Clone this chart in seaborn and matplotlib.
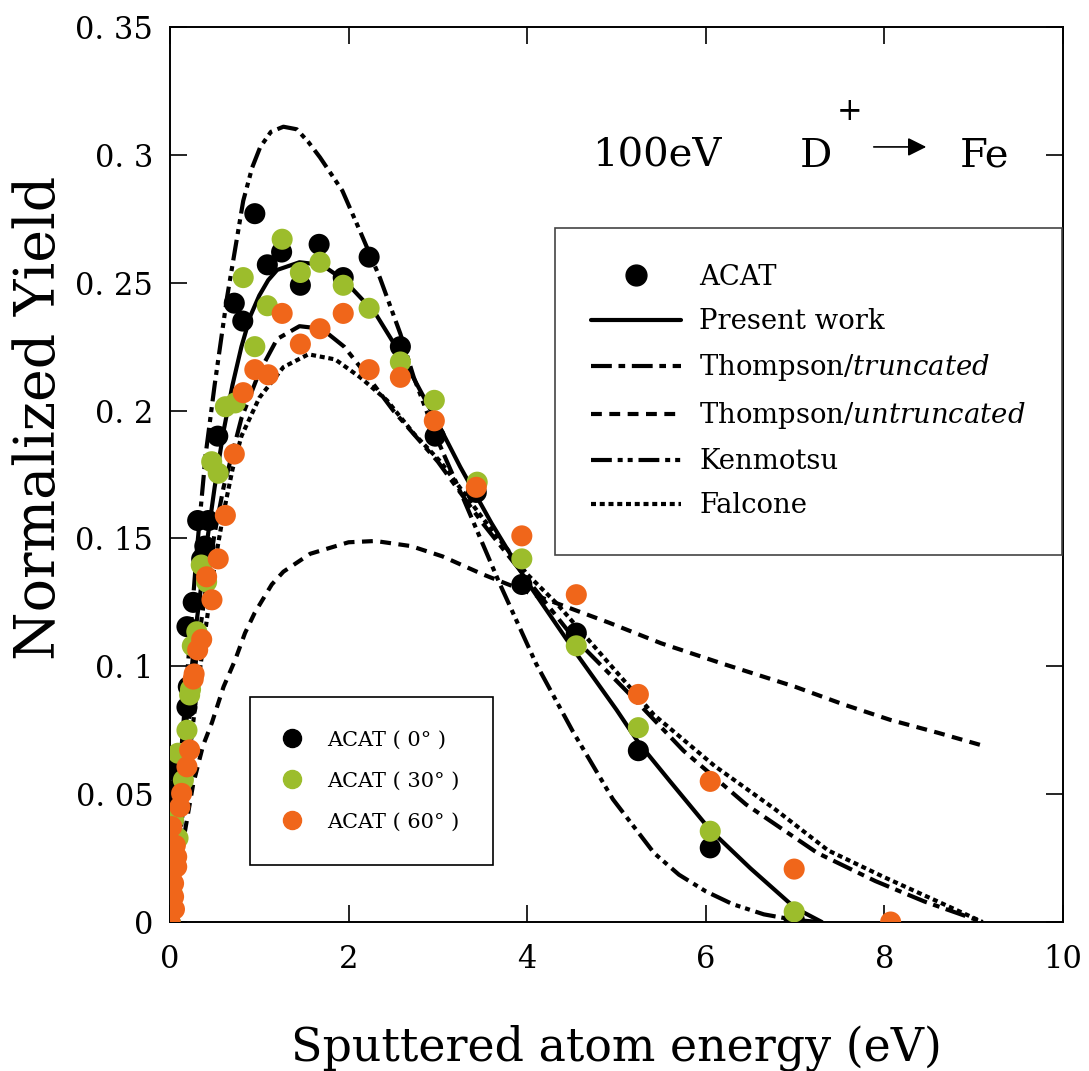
import numpy as np
import pandas as pd
import matplotlib
matplotlib.use("Agg")
import matplotlib.pyplot as plt
from matplotlib.lines import Line2D
import seaborn as sns

# ---------------- data ----------------
E_0 = [0.0, 0.01, 0.01, 0.03, 0.02, 0.04, 0.08, 0.13, 0.19, 0.205, 0.19, 0.26, 0.355, 0.39, 0.31, 0.43,
       0.535, 0.72, 0.815, 0.95, 1.09, 1.25, 1.46, 1.67, 1.94, 2.23, 2.58, 2.97, 3.43, 3.94, 4.55,
       5.245, 6.05, 6.99]
Y_0 = [0.0, 0.015, 0.025, 0.035, 0.0446, 0.0594, 0.052, 0.065, 0.084, 0.092, 0.1155, 0.125, 0.142, 0.147,
       0.157, 0.157, 0.190, 0.242, 0.235, 0.277, 0.257, 0.262, 0.249, 0.265, 0.252, 0.260, 0.225,
       0.190, 0.168, 0.132, 0.113, 0.067, 0.029, 0.001]

E_30 = [0.0, 0.02, 0.0, 0.04, 0.09, 0.09, 0.15, 0.19, 0.22, 0.23, 0.25, 0.30, 0.35, 0.41, 0.467, 0.54,
        0.62, 0.73, 0.82, 0.95, 1.09, 1.256, 1.46, 1.68, 1.94, 2.23, 2.58, 2.96, 3.44, 3.94, 4.55,
        5.245, 6.05, 6.99]
Y_30 = [0.0, 0.012, 0.024, 0.040, 0.0328, 0.066, 0.0555, 0.075, 0.0888, 0.091, 0.108, 0.1135, 0.1396,
        0.133, 0.180, 0.1755, 0.2015, 0.203, 0.252, 0.225, 0.241, 0.267, 0.254, 0.258, 0.249, 0.240,
        0.219, 0.204, 0.172, 0.142, 0.108, 0.076, 0.0355, 0.004]

E_60 = [0.0, 0.05, 0.04, 0.04, 0.03, 0.075, 0.075, 0.06, 0.02, 0.11, 0.13, 0.19, 0.22, 0.26, 0.27, 0.31,
        0.355, 0.47, 0.41, 0.54, 0.62, 0.72, 0.82, 0.95, 1.10, 1.256, 1.46, 1.68, 1.94, 2.23, 2.58,
        2.96, 3.43, 3.94, 4.55, 5.245, 6.05, 6.99, 8.07]
Y_60 = [0.0, 0.005, 0.0099, 0.0151, 0.020, 0.0216, 0.0255, 0.030, 0.0373, 0.045, 0.0503, 0.0607, 0.0673,
        0.095, 0.097, 0.1064, 0.1105, 0.126, 0.135, 0.142, 0.159, 0.183, 0.207, 0.216, 0.214, 0.238,
        0.226, 0.232, 0.238, 0.216, 0.213, 0.196, 0.170, 0.151, 0.128, 0.089, 0.055, 0.0207, 0.0]

E_present = [0, 0.1, 0.2, 0.3, 0.4, 0.5, 0.6, 0.7, 0.8, 0.9, 1.0, 1.1, 1.2, 1.45, 1.7, 1.95, 2.3, 2.6,
             3.0, 3.25, 3.6, 4.0, 4.55, 5.0, 5.25, 5.6, 6.05, 6.5, 7.0, 7.3]
Y_present = [0, 0.045, 0.085, 0.118, 0.145, 0.17, 0.192, 0.21, 0.225, 0.237, 0.245, 0.251, 0.255, 0.258,
             0.257, 0.251, 0.238, 0.221, 0.195, 0.178, 0.156, 0.133, 0.105, 0.083, 0.070, 0.055, 0.036,
             0.021, 0.0055, 0]

E_trunc = [0, 0.1, 0.2, 0.3, 0.4, 0.5, 0.6, 0.8, 1.0, 1.2, 1.45, 1.7, 1.95, 2.2, 2.5, 2.75, 3.0, 3.5,
           4.0, 4.5, 5.15, 5.75, 6.45, 7.25, 7.9, 8.45, 9.1]
Y_trunc = [0, 0.04, 0.075, 0.105, 0.13, 0.152, 0.17, 0.197, 0.215, 0.228, 0.233, 0.232, 0.225, 0.214,
           0.2, 0.19, 0.18, 0.156, 0.134, 0.112, 0.089, 0.067, 0.046, 0.027, 0.016, 0.008, 0]

E_untr = [0, 0.1, 0.26, 0.37, 0.47, 0.6, 0.73, 0.84, 0.95, 1.14, 1.27, 1.57, 2.0, 2.3, 2.7, 3.05, 3.5,
          4.15, 4.92, 5.5, 6.19, 7.0, 7.55, 8.07, 8.6, 9.1]
Y_untr = [0, 0.022, 0.054, 0.069, 0.078, 0.092, 0.1025, 0.113, 0.121, 0.132, 0.137, 0.144, 0.1485, 0.149,
          0.147, 0.143, 0.136, 0.127, 0.117, 0.109, 0.101, 0.092, 0.085, 0.079, 0.074, 0.069]

E_kenm = [0, 0.1, 0.2, 0.3, 0.4, 0.5, 0.64, 0.82, 0.92, 1.01, 1.13, 1.27, 1.42, 1.55, 1.68, 1.93, 2.13,
          2.35, 2.58, 2.73, 2.99, 3.14, 3.28, 3.69, 4.1, 4.51, 4.96, 5.42, 5.7, 6.0, 6.3, 6.65, 7.0, 7.28]
Y_kenm = [0, 0.055, 0.1, 0.145, 0.183, 0.21, 0.2445, 0.282, 0.295, 0.303, 0.309, 0.311, 0.31, 0.305,
          0.299, 0.286, 0.27, 0.252, 0.23, 0.213, 0.189, 0.177, 0.166, 0.1325, 0.101, 0.0746, 0.048,
          0.027, 0.0185, 0.012, 0.007, 0.003, 0.0008, 0]

E_falc = [0, 0.1, 0.2, 0.3, 0.4, 0.5, 0.6, 0.7, 0.8, 1.0, 1.27, 1.55, 1.85, 2.13, 2.43, 2.73, 3.03, 3.5,
          4.0, 4.33, 4.92, 5.42, 6.1, 6.78, 7.37, 8.0, 8.6, 9.1]
Y_falc = [0, 0.03, 0.06, 0.09, 0.115, 0.14, 0.16, 0.177, 0.19, 0.205, 0.217, 0.222, 0.22, 0.213, 0.204,
          0.191, 0.18, 0.158, 0.136, 0.1246, 0.101, 0.081, 0.061, 0.044, 0.028, 0.0175, 0.008, 0]

x_ticks = [0, 2, 4, 6, 8, 10]
x_tick_labels = ["0", "2", "4", "6", "8", "10"]
y_ticks = [0, 0.05, 0.1, 0.15, 0.2, 0.25, 0.3, 0.35]
y_tick_labels = ["0", "0. 05", "0. 1", "0. 15", "0. 2", "0. 25", "0. 3", "0. 35"]

angle_labels = ["ACAT ( 0° )", "ACAT ( 30° )", "ACAT ( 60° )"]
model_labels = ["ACAT", "Present work", r"Thompson/$\mathit{truncated}$",
                r"Thompson/$\mathit{untruncated}$", "Kenmotsu", "Falcone"]

# ---------------- styling ----------------
sns.set_theme(style="ticks")
plt.rcParams["font.family"] = ["DejaVu Serif", "DejaVu Sans"]
plt.rcParams["mathtext.fontset"] = "custom"
plt.rcParams["mathtext.rm"] = "DejaVu Serif"
plt.rcParams["mathtext.it"] = "DejaVu Serif:italic"
plt.rcParams["axes.linewidth"] = 1.4
for k in ["text.color", "axes.labelcolor", "xtick.color", "ytick.color", "axes.edgecolor"]:
    plt.rcParams[k] = "black"

BLACK = "#000000"
GREEN = "#9cbd2c"
ORANGE = "#f0661a"

fig = plt.figure(figsize=(10.89, 10.71), dpi=100)
ax = fig.add_axes([0.1561, 0.1391, 0.8200, 0.8357])

LW = 3.0
styles = {
    "present": "-",
    "trunc": (0, (5, 1.6, 1.6, 1.6)),
    "untr": (0, (2.6, 1.8)),
    "kenm": (0, (5, 1.4, 1.2, 1.2, 1.2, 1.4)),
    "falc": (0, (1.2, 0.9)),
}

curves = [
    (E_present, Y_present, "present"),
    (E_trunc, Y_trunc, "trunc"),
    (E_untr, Y_untr, "untr"),
    (E_kenm, Y_kenm, "kenm"),
    (E_falc, Y_falc, "falc"),
]
for ex, ey, key in curves:
    sns.lineplot(x=ex, y=ey, ax=ax, color=BLACK, lw=LW, linestyle=styles[key],
                 estimator=None, sort=False, legend=False, zorder=2)

pts = pd.concat([
    pd.DataFrame({"E": E_0, "Y": Y_0, "angle": angle_labels[0]}),
    pd.DataFrame({"E": E_30, "Y": Y_30, "angle": angle_labels[1]}),
    pd.DataFrame({"E": E_60, "Y": Y_60, "angle": angle_labels[2]}),
], ignore_index=True)
palette = {angle_labels[0]: BLACK, angle_labels[1]: GREEN, angle_labels[2]: ORANGE}
for lab in angle_labels:
    sub = pts[pts["angle"] == lab]
    sns.scatterplot(data=sub, x="E", y="Y", ax=ax, color=palette[lab], s=230,
                    linewidth=0, edgecolor="none", legend=False, zorder=3)

ax.set_xlim(0, 10)
ax.set_ylim(0, 0.35)
ax.set_xticks(x_ticks)
ax.set_xticklabels(x_tick_labels, fontsize=22)
ax.set_yticks(y_ticks)
ax.set_yticklabels(y_tick_labels, fontsize=22)
ax.tick_params(axis="both", direction="in", length=12, width=1.2, top=True, right=True,
               colors="black")
ax.tick_params(axis="x", pad=16)
ax.tick_params(axis="y", pad=12)
for sp in ax.spines.values():
    sp.set_visible(True)
    sp.set_color("black")

ax.set_xlabel("Sputtered atom energy (eV)", fontsize=33, va="center", color="black")
ax.xaxis.set_label_coords(0.5, -0.14)
ax.set_ylabel("Normalized Yield", fontsize=40, va="center", ha="center", color="black")
ax.yaxis.set_label_coords(-0.1456, 0.563)

# annotation "100eV  D+ -> Fe"
ax.text(0.4726, 0.8436, "100eV", transform=ax.transAxes, fontsize=29, va="baseline", ha="left")
ax.text(0.7055, 0.8436, "D", transform=ax.transAxes, fontsize=29, va="baseline", ha="left")
ax.text(0.7615, 0.906, "+", transform=ax.transAxes, fontsize=22, va="center", ha="center",
        fontweight="light")
ax.annotate("", xy=(0.850, 0.866), xytext=(0.785, 0.866), xycoords="axes fraction",
            arrowprops=dict(arrowstyle="-|>", lw=1.2, color="black", mutation_scale=28))
ax.text(0.8847, 0.8436, "Fe", transform=ax.transAxes, fontsize=29, va="baseline", ha="left")

# legend 1 (models)
h1 = [Line2D([], [], color=BLACK, marker="o", markersize=15, linestyle="none")]
for key in ["present", "trunc", "untr", "kenm", "falc"]:
    h1.append(Line2D([], [], color=BLACK, lw=LW, linestyle=styles[key]))
leg1 = ax.legend(h1, model_labels, loc="upper left", bbox_to_anchor=(0.431, 0.775),
                 borderaxespad=0, fontsize=19.8, borderpad=1.3, handlelength=3.3,
                 handletextpad=0.65, labelspacing=0.62, frameon=True, fancybox=False,
                 framealpha=1, edgecolor="#444444")
leg1.get_frame().set_linewidth(1.2)
ax.add_artist(leg1)

# legend 2 (angles)
h2 = [Line2D([], [], color=c, marker="o", markersize=13, linestyle="none")
      for c in [BLACK, GREEN, ORANGE]]
leg2 = ax.legend(h2, angle_labels, loc="upper left", bbox_to_anchor=(0.0896, 0.251),
                 borderaxespad=0, fontsize=15, borderpad=1.6, handlelength=0.8,
                 handletextpad=1.3, labelspacing=1.05, frameon=True, fancybox=False,
                 framealpha=1, edgecolor="black")
leg2.get_frame().set_linewidth(1.2)

fig.savefig("out.png", dpi=100)
